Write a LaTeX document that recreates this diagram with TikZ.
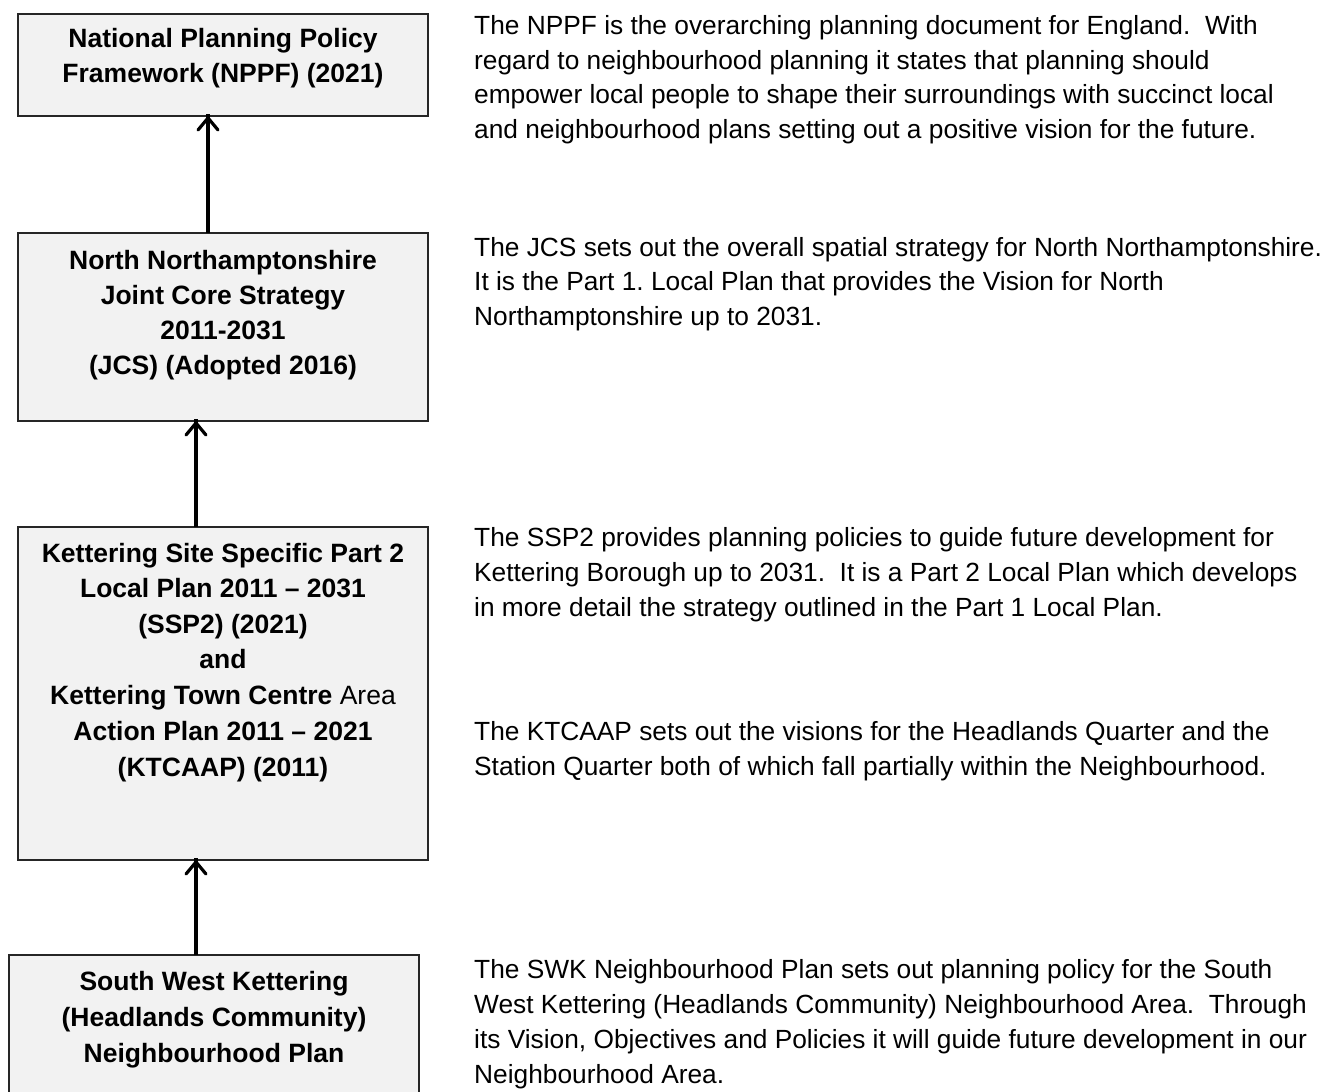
\documentclass[tikz,border=0pt]{standalone}
\usepackage{fontspec}
\setmainfont{Liberation Sans}
\definecolor{boxfill}{HTML}{F2F2F2}
\definecolor{boxline}{HTML}{262626}
\frenchspacing
\tikzset{
  planbox/.style={draw=boxline, line width=1.2pt, fill=boxfill},
  boxtxt/.style={anchor=base, inner sep=0pt, font=\fontsize{26.5}{35}\selectfont\bfseries},
  desctxt/.style={anchor=base west, inner sep=0pt, font=\fontsize{26.3}{34}\selectfont},
  shaft/.style={line width=3.2pt},
  barb/.style={line width=3.2pt, line cap=round, line join=round}
}
\newcommand{\uptip}[1]{\draw[barb] ([shift={(-10,14)}]#1) -- ([shift={(0,2)}]#1) -- ([shift={(10,14)}]#1);}
\begin{document}
\begin{tikzpicture}[x=1pt,y=-1pt]
\useasboundingbox (0,0) rectangle (1333,1092);
% boxes
\draw[planbox] (18,14) rectangle (428,116);
\coordinate (b1s) at (208,116);
\draw[planbox] (18,233) rectangle (428,421);
\coordinate (b2n) at (208,233);
\coordinate (b2s) at (196,421);
\draw[planbox] (18,527) rectangle (428,860);
\coordinate (b3n) at (196,527);
\coordinate (b3s) at (196,860);
\draw[planbox] (9,955) rectangle (419,1130);
\coordinate (b4n) at (196,955);
% arrows
\draw[shaft] (b2n) -- ([yshift=2pt]b1s); \uptip{b1s}
\draw[shaft] (b3n) -- ([yshift=2pt]b2s); \uptip{b2s}
\draw[shaft] (b4n) -- ([yshift=2pt]b3s); \uptip{b3s}
% box texts
\node[boxtxt] (t11) at (223,47) {National Planning Policy};
\node[boxtxt] (t12) at (223,82) {Framework (NPPF) (2021)};
\node[boxtxt] (t21) at (223,269) {North Northamptonshire};
\node[boxtxt] (t22) at (223,304) {Joint Core Strategy};
\node[boxtxt] (t23) at (223,339) {2011-2031};
\node[boxtxt] (t24) at (223,374) {(JCS) (Adopted 2016)};
\node[boxtxt] (t31) at (223,562) {Kettering Site Specific Part 2};
\node[boxtxt] (t32) at (223,597.5) {Local Plan 2011 – 2031};
\node[boxtxt] (t33) at (223,633) {(SSP2) (2021)};
\node[boxtxt] (t34) at (223,668.5) {and};
\node[boxtxt] (t35) at (223,704) {Kettering Town Centre \mdseries Area};
\node[boxtxt] (t36) at (223,740) {Action Plan 2011 – 2021};
\node[boxtxt] (t37) at (223,776) {(KTCAAP) (2011)};
\node[boxtxt] (t41) at (214,990) {South West Kettering};
\node[boxtxt] (t42) at (214,1026) {(Headlands Community)};
\node[boxtxt] (t43) at (214,1062) {Neighbourhood Plan};
% descriptions
\node[desctxt] (d11) at (474,34.3) {The NPPF is the overarching planning document for England.\ \ With};
\node[desctxt] (d12) at (474,69) {regard to neighbourhood planning it states that planning should};
\node[desctxt] (d13) at (474,103.3) {empower local people to shape their surroundings with succinct local};
\node[desctxt] (d14) at (474,138) {and neighbourhood plans setting out a positive vision for the future.};
\node[desctxt] (d21) at (474,256) {The JCS sets out the overall spatial strategy for North Northamptonshire.};
\node[desctxt] (d22) at (474,290) {It is the Part 1. Local Plan that provides the Vision for North};
\node[desctxt] (d23) at (474,325) {Northamptonshire up to 2031.};
\node[desctxt] (d31) at (474,546.7) {The SSP2 provides planning policies to guide future development for};
\node[desctxt] (d32) at (474,581) {Kettering Borough up to 2031.\ \ It is a Part 2 Local Plan which develops};
\node[desctxt] (d33) at (474,616.7) {in more detail the strategy outlined in the Part 1 Local Plan.};
\node[desctxt] (d41) at (474,740) {The KTCAAP sets out the visions for the Headlands Quarter and the};
\node[desctxt] (d42) at (474,775) {Station Quarter both of which fall partially within the Neighbourhood.};
\node[desctxt] (d51) at (474,978) {The SWK Neighbourhood Plan sets out planning policy for the South};
\node[desctxt] (d52) at (474,1013) {West Kettering (Headlands Community) Neighbourhood Area.\ \ Through};
\node[desctxt] (d53) at (474,1048) {its Vision, Objectives and Policies it will guide future development in our};
\node[desctxt] (d54) at (474,1083) {Neighbourhood Area.};
\end{tikzpicture}
\end{document}
